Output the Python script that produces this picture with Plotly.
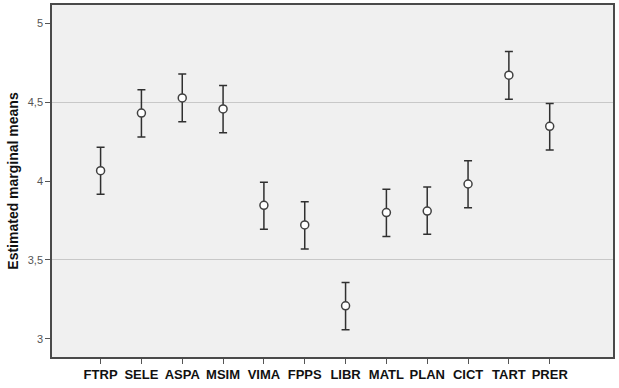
import plotly.graph_objects as go

categories = ["FTRP", "SELE", "ASPA", "MSIM", "VIMA", "FPPS", "LIBR", "MATL", "PLAN", "CICT", "TART", "PRER"]
means = [4.065, 4.430, 4.526, 4.456, 3.846, 3.722, 3.210, 3.800, 3.810, 3.981, 4.670, 4.346]
upper = [4.213, 4.577, 4.677, 4.605, 3.992, 3.869, 3.358, 3.948, 3.962, 4.128, 4.820, 4.491]
lower = [3.916, 4.278, 4.375, 4.305, 3.695, 3.570, 3.059, 3.648, 3.663, 3.831, 4.518, 4.196]
y_tickvals = [3, 3.5, 4, 4.5, 5]
y_ticktext = ["3", "3,5", "4", "4,5", "5"]
grid_vals = [3.5, 4.5]

err_plus = [u - m for u, m in zip(upper, means)]
err_minus = [m - l for m, l in zip(means, lower)]

fig = go.Figure()
fig.add_trace(go.Scatter(
    x=list(range(len(categories))), y=means, mode="markers",
    marker=dict(symbol="circle", size=8, color="white",
                line=dict(color="#404040", width=1.5)),
    error_y=dict(type="data", symmetric=False, array=err_plus, arrayminus=err_minus,
                 color="#303030", thickness=1.5, width=4),
    showlegend=False, cliponaxis=False,
))

fig.update_layout(
    width=619, height=388,
    margin=dict(l=52, r=6, t=5, b=31, autoexpand=False),
    paper_bgcolor="white", plot_bgcolor="#F0F0F0",
    font=dict(family="Liberation Sans, Arial, sans-serif", color="#000000"),
    xaxis=dict(
        range=[-1.19, 12.55], tickmode="array", automargin=False,
        tickvals=list(range(len(categories))), ticktext=categories,
        showgrid=False, zeroline=False,
        showline=True, linecolor="#4a4a4a", linewidth=1.5, mirror=True,
        ticks="outside", ticklen=5, tickcolor="#555555", tickwidth=1,
        tickfont=dict(size=13, color="#111111", family="Liberation Sans, Arial, sans-serif", weight="bold"),
    ),
    yaxis=dict(
        range=[2.886, 5.114], tickmode="array", automargin=False,
        tickvals=y_tickvals, ticktext=y_ticktext,
        showgrid=False, zeroline=False,
        showline=True, linecolor="#4a4a4a", linewidth=1.5, mirror=True,
        ticks="outside", ticklen=5, tickcolor="#555555", tickwidth=1,
        tickfont=dict(size=11, color="#555555"),
        minor=dict(tickvals=grid_vals, showgrid=True, gridcolor="#C8C8C8", gridwidth=1, ticks=""),
        title=dict(text="Estimated marginal means", standoff=6,
                   font=dict(size=14, color="#111111", weight="bold")),
    ),
)

fig.write_html("out.html", config={"displayModeBar": False},
               post_script="document.body.style.margin='0';document.body.style.padding='0';")
